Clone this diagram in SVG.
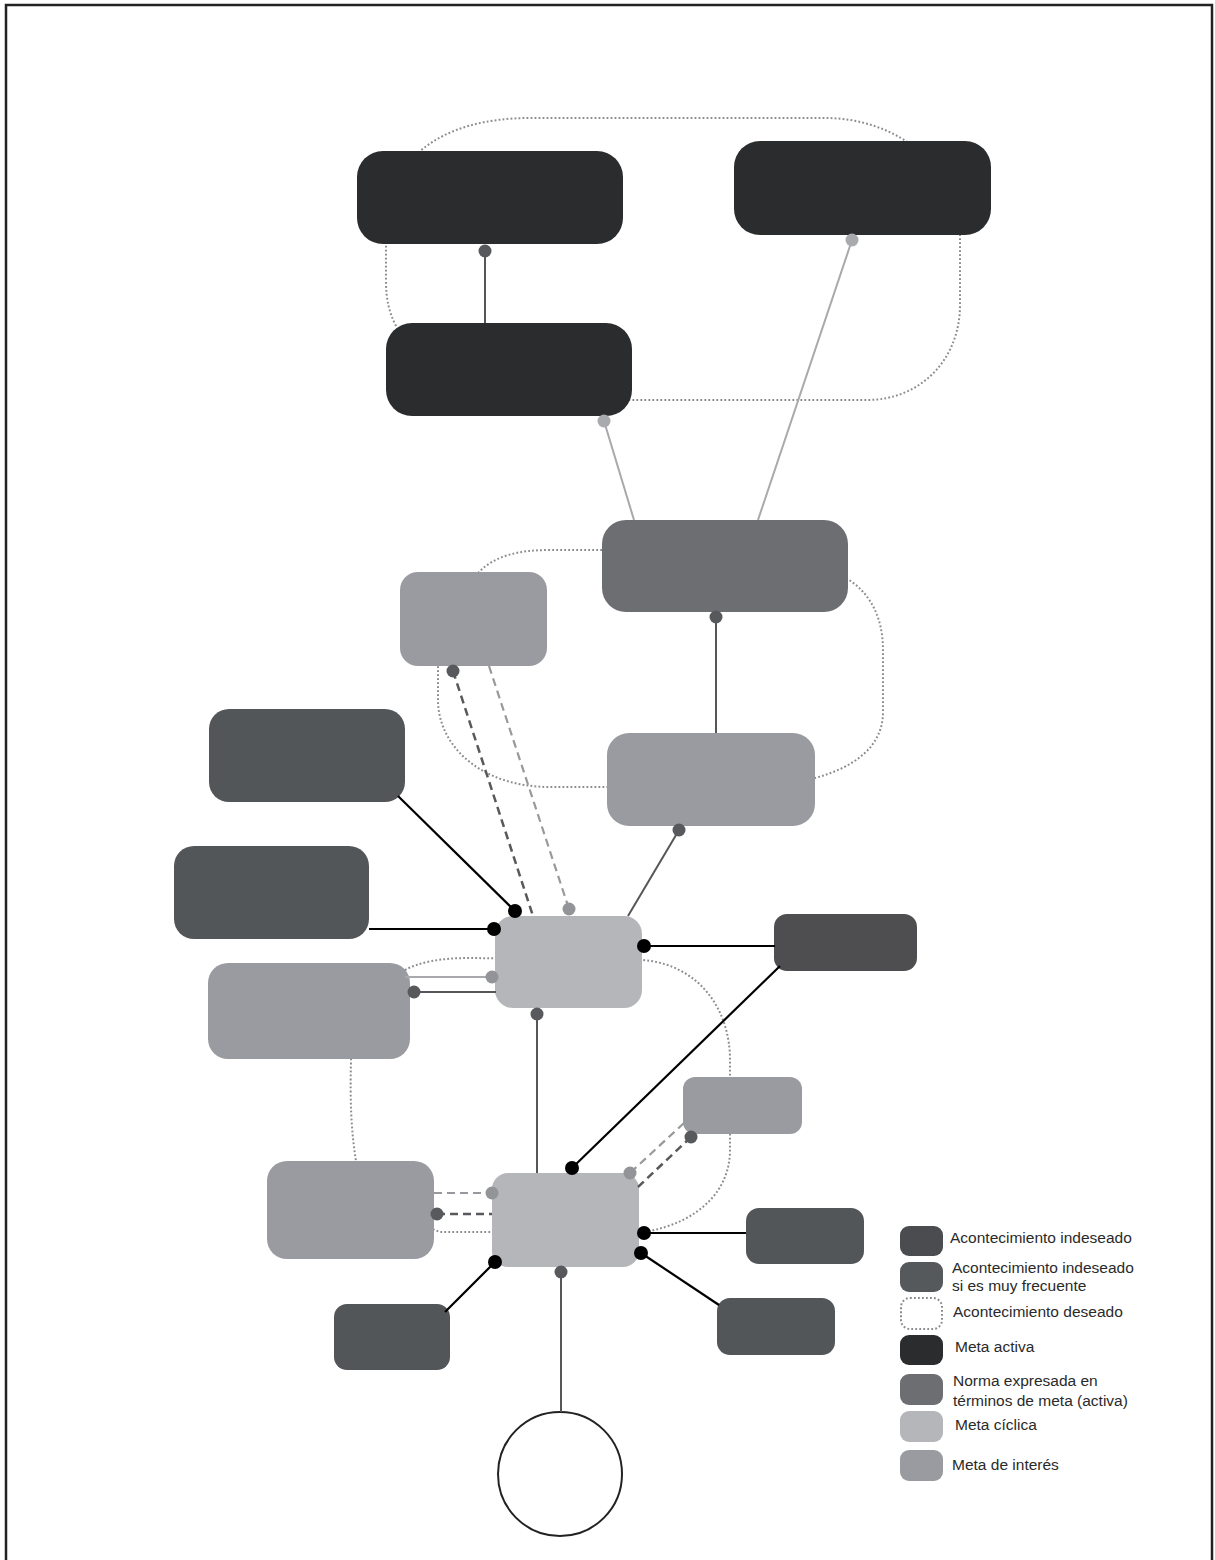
<svg xmlns="http://www.w3.org/2000/svg" width="1215" height="1560" viewBox="0 0 1215 1560">
  <style>
    .activa { fill: #2b2c2d; }
    .norma { fill: #6d6e71; }
    .ciclica { fill: #b5b6b9; }
    .interes { fill: #9a9ba0; }
    .indeseado { fill: #4e4d4f; }
    .frecuente { fill: #535659; }
    .deseado { fill: none; stroke: #8a8b8e; stroke-width: 2; stroke-dasharray: 1.8 2.2; }
    .solid-dark { stroke: #555659; stroke-width: 2; fill: none; }
    .solid-light { stroke: #a8a9ac; stroke-width: 2; fill: none; }
    .solid-black { stroke: #000; stroke-width: 2.2; fill: none; }
    .dash-dark { stroke: #58595c; stroke-width: 2.5; stroke-dasharray: 8 5; fill: none; }
    .dash-light { stroke: #98999c; stroke-width: 2.2; stroke-dasharray: 8 5; fill: none; }
    .dot-dark { fill: #58595c; }
    .dot-light { fill: #a9aaad; }
    .dot-mid { fill: #939497; }
    .dot-black { fill: #000; }
    .legend-text { font-family: "Liberation Sans", Arial, sans-serif; font-size: 15.5px; fill: #2a2a2a; }
  </style>

  <!-- outer frame -->
  <rect x="6" y="5" width="1206" height="1580" fill="#fff" stroke="#222" stroke-width="2.5"/>

  <!-- desired-event loops (drawn behind the goal boxes) -->
  <g id="deseado-superior">
    <path class="deseado" d="M396,326 C389,312 386,300 386,280 L386,230 C386,160 440,118 530,118 L825,118 C900,118 960,170 960,235 L960,305 C960,360 920,400 867,400 L420,400 Z"/>
  </g>
  <g id="deseado-medio">
    <path class="deseado" d="M478,573 C495,555 520,550 550,550 L610,550 L840,575 C868,588 883,615 883,650 L883,712 C883,748 852,768 815,778 L610,787 L550,787 C480,787 438,745 438,700 L438,660 Z"/>
  </g>
  <g id="deseado-inferior">
    <path class="deseado" d="M405,970 C420,962 440,958 470,958 L643,960 C700,965 730,1010 730,1060 L730,1150 C730,1190 700,1222 645,1232 L440,1232 L356,1200 L356,1161 C351,1130 350,1100 351,1060 L351,1040 Z"/>
  </g>

  <!-- goal and event boxes -->
  <g id="meta-activa-1"><rect class="activa" x="357" y="151" width="266" height="93" rx="26"/></g>
  <g id="meta-activa-2"><rect class="activa" x="734" y="141" width="257" height="94" rx="26"/></g>
  <g id="meta-activa-3"><rect class="activa" x="386" y="323" width="246" height="93" rx="26"/></g>
  <g id="norma"><rect class="norma" x="602" y="520" width="246" height="92" rx="24"/></g>
  <g id="interes-superior"><rect class="interes" x="400" y="572" width="147" height="94" rx="18"/></g>
  <g id="interes-medio"><rect class="interes" x="607" y="733" width="208" height="93" rx="22"/></g>
  <g id="frecuente-1"><rect class="frecuente" x="209" y="709" width="196" height="93" rx="20"/></g>
  <g id="frecuente-2"><rect class="frecuente" x="174" y="846" width="195" height="93" rx="20"/></g>
  <g id="interes-izquierda"><rect class="interes" x="208" y="963" width="202" height="96" rx="20"/></g>
  <g id="ciclica-superior"><rect class="ciclica" x="495" y="916" width="147" height="92" rx="18"/></g>
  <g id="indeseado-1"><rect class="indeseado" x="774" y="914" width="143" height="57" rx="13"/></g>
  <g id="interes-pequena"><rect class="interes" x="683" y="1077" width="119" height="57" rx="12"/></g>
  <g id="interes-inferior"><rect class="interes" x="267" y="1161" width="167" height="98" rx="20"/></g>
  <g id="ciclica-inferior"><rect class="ciclica" x="492" y="1173" width="147" height="94" rx="16"/></g>
  <g id="frecuente-3"><rect class="frecuente" x="746" y="1208" width="118" height="56" rx="13"/></g>
  <g id="frecuente-4"><rect class="frecuente" x="717" y="1298" width="118" height="57" rx="13"/></g>
  <g id="frecuente-5"><rect class="frecuente" x="334" y="1304" width="116" height="66" rx="13"/></g>
  <g id="circulo"><circle cx="560" cy="1474" r="62" fill="#fff" stroke="#222" stroke-width="2"/></g>

  <!-- connectors -->
  <g id="connectors">
    <!-- upper goals -->
    <line class="solid-dark" x1="485" y1="251" x2="485" y2="323"/>
    <circle class="dot-dark" cx="485" cy="251" r="6.5"/>
    <line class="solid-light" x1="852" y1="240" x2="758" y2="520"/>
    <circle class="dot-light" cx="852" cy="240" r="6.5"/>
    <line class="solid-light" x1="604" y1="421" x2="634" y2="520"/>
    <circle class="dot-light" cx="604" cy="421" r="6.5"/>

    <!-- norm and interest goals -->
    <line class="solid-dark" x1="716" y1="617" x2="716" y2="733"/>
    <circle class="dot-dark" cx="716" cy="617" r="6.5"/>
    <line class="solid-dark" x1="679" y1="830" x2="628" y2="916" stroke="#636467"/>
    <circle class="dot-dark" cx="679" cy="830" r="6.5"/>
    <line class="dash-dark" x1="453" y1="671" x2="533" y2="916"/>
    <circle class="dot-dark" cx="453" cy="671" r="6.5"/>
    <line class="dash-light" x1="489" y1="666" x2="569" y2="909"/>
    <circle class="dot-mid" cx="569" cy="909" r="6.5"/>

    <!-- upper cyclic goal -->
    <line class="solid-black" x1="398" y1="796" x2="515" y2="911"/>
    <circle class="dot-black" cx="515" cy="911" r="7"/>
    <line class="solid-black" x1="369" y1="929" x2="494" y2="929"/>
    <circle class="dot-black" cx="494" cy="929" r="7"/>
    <line class="solid-light" x1="405" y1="977" x2="492" y2="977"/>
    <circle class="dot-mid" cx="492" cy="977" r="6.5"/>
    <line class="solid-dark" x1="414" y1="992" x2="496" y2="992" stroke="#636467"/>
    <circle class="dot-dark" cx="414" cy="992" r="6.5"/>
    <line class="solid-black" x1="644" y1="946" x2="775" y2="946"/>
    <circle class="dot-black" cx="644" cy="946" r="7"/>
    <line class="solid-dark" x1="537" y1="1014" x2="537" y2="1173" stroke="#636467"/>
    <circle class="dot-dark" cx="537" cy="1014" r="6.5"/>

    <!-- lower cyclic goal -->
    <line class="solid-black" x1="780" y1="966" x2="572" y2="1168"/>
    <circle class="dot-black" cx="572" cy="1168" r="7"/>
    <line class="dash-light" x1="684" y1="1123" x2="630" y2="1173"/>
    <circle class="dot-mid" cx="630" cy="1173" r="6.5"/>
    <line class="dash-dark" x1="691" y1="1137" x2="638" y2="1187"/>
    <circle class="dot-dark" cx="691" cy="1137" r="6.5"/>
    <line class="dash-light" x1="434" y1="1193" x2="492" y2="1193"/>
    <circle class="dot-mid" cx="492" cy="1193" r="6.5"/>
    <line class="dash-dark" x1="437" y1="1214" x2="492" y2="1214"/>
    <circle class="dot-dark" cx="437" cy="1214" r="6.5"/>
    <line class="solid-black" x1="644" y1="1233" x2="746" y2="1233"/>
    <circle class="dot-black" cx="644" cy="1233" r="7"/>
    <line class="solid-black" x1="641" y1="1253" x2="719" y2="1305"/>
    <circle class="dot-black" cx="641" cy="1253" r="7"/>
    <line class="solid-black" x1="495" y1="1262" x2="445" y2="1312"/>
    <circle class="dot-black" cx="495" cy="1262" r="7"/>
    <line class="solid-dark" x1="561" y1="1272" x2="561" y2="1412" stroke="#6f7073"/>
    <circle class="dot-dark" cx="561" cy="1272" r="6.5"/>
  </g>

  <!-- legend -->
  <g id="leyenda">
    <rect x="900" y="1226" width="43" height="30" rx="9" fill="#4a4c4f"/>
    <text class="legend-text" x="950" y="1243">Acontecimiento indeseado</text>
    <rect x="900" y="1262" width="43" height="30" rx="9" fill="#56595c"/>
    <text class="legend-text" x="952" y="1273">Acontecimiento indeseado</text>
    <text class="legend-text" x="952" y="1291">si es muy frecuente</text>
    <rect class="deseado" x="901" y="1298" width="41" height="31" rx="9"/>
    <text class="legend-text" x="953" y="1317">Acontecimiento deseado</text>
    <rect class="activa" x="900" y="1335" width="43" height="30" rx="9"/>
    <text class="legend-text" x="955" y="1352">Meta activa</text>
    <rect class="norma" x="900" y="1374" width="43" height="31" rx="9"/>
    <text class="legend-text" x="953" y="1386">Norma expresada en</text>
    <text class="legend-text" x="953" y="1406">términos de meta (activa)</text>
    <rect class="ciclica" x="900" y="1411" width="43" height="31" rx="9"/>
    <text class="legend-text" x="955" y="1430">Meta cíclica</text>
    <rect class="interes" x="900" y="1450" width="43" height="31" rx="9"/>
    <text class="legend-text" x="952" y="1470">Meta de interés</text>
  </g>
</svg>
